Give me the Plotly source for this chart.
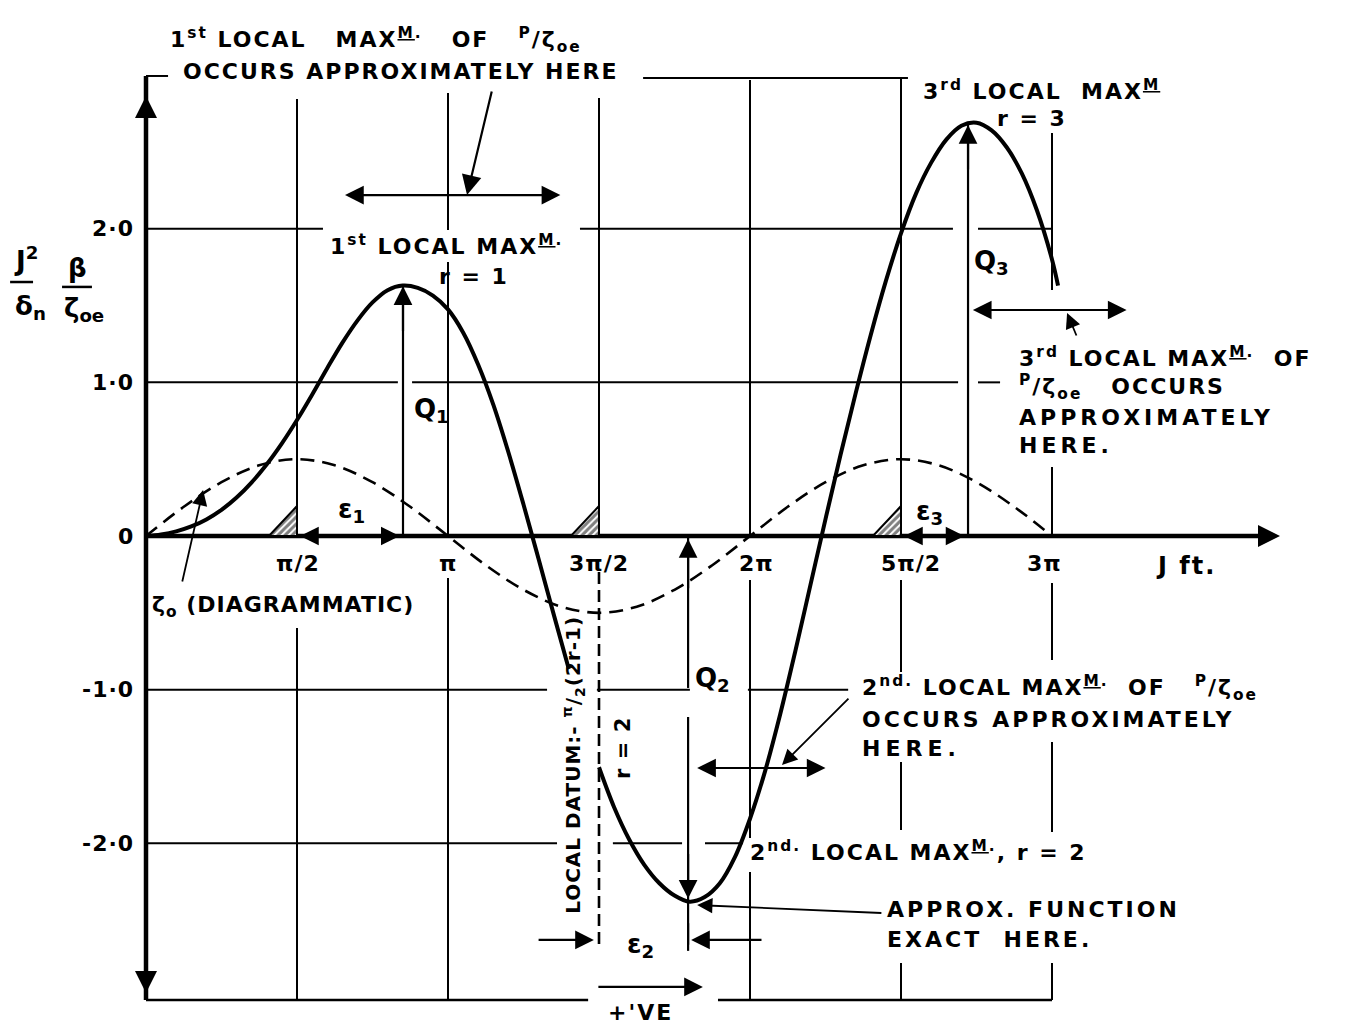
import plotly.graph_objects as go

# ---------------- data (x in multiples of pi, y in ordinate units) ----------------
# solid curve, first branch (up to the break at the local-datum label)
main_x1 = [0.0, 0.05, 0.1, 0.15, 0.2, 0.25, 0.3, 0.35, 0.4, 0.45, 0.5, 0.55, 0.6, 0.65,
           0.7, 0.75, 0.8, 0.85, 0.9, 0.95, 1.0, 1.05, 1.1, 1.15, 1.2, 1.25, 1.3, 1.35, 1.4]
main_y1 = [0.0, 0.010, 0.030, 0.062, 0.108, 0.170, 0.250, 0.349, 0.467, 0.603, 0.755,
           0.920, 1.092, 1.257, 1.402, 1.520, 1.600, 1.630, 1.615, 1.565, 1.475, 1.325,
           1.115, 0.855, 0.545, 0.205, -0.15, -0.51, -0.865]
# solid curve, second branch
main_x2 = [1.5, 1.55, 1.6, 1.65, 1.7, 1.75, 1.8, 1.85, 1.9, 1.95, 2.0, 2.05, 2.1, 2.15,
           2.2, 2.25, 2.3, 2.35, 2.4, 2.45, 2.5, 2.55, 2.6, 2.65, 2.7, 2.75, 2.8, 2.85, 2.9,
           2.95, 3.0, 3.02]
main_y2 = [-1.505, -1.765, -1.975, -2.14, -2.26, -2.34, -2.38, -2.35, -2.26, -2.09, -1.84,
           -1.53, -1.16, -0.75, -0.32, 0.11, 0.53, 0.93, 1.31, 1.66, 1.97, 2.23, 2.43, 2.58,
           2.67, 2.69, 2.64, 2.53, 2.36, 2.12, 1.80, 1.63]

# dashed zeta_o (diagrammatic)
zeta_x = [0, 0.125, 0.25, 0.375, 0.5, 0.625, 0.75, 0.875, 1.0, 1.125, 1.25, 1.375, 1.5,
          1.625, 1.75, 1.875, 2.0, 2.125, 2.25, 2.375, 2.5, 2.625, 2.75, 2.875, 3.0]
zeta_y = [0, 0.19, 0.35, 0.46, 0.50, 0.46, 0.35, 0.19, 0, -0.19, -0.35, -0.46, -0.50,
          -0.46, -0.35, -0.19, 0, 0.19, 0.35, 0.46, 0.50, 0.46, 0.35, 0.19, 0]

x_tick_vals = [0.5, 1.0, 1.5, 2.0, 2.5, 3.0]
x_tick_text = ["π/2", "π", "3π/2", "2π", "5π/2", "3π"]
y_tick_vals = [0, 1, 2, -1, -2]
y_tick_text = ["0", "1·0", "2·0", "-1·0", "-2·0"]

hatch_x = [0.5, 1.5, 2.5]          # hatched wedges on the axis
q_x = [0.851, 1.795, 2.722]        # positions of the local maxima (Q1, Q2, Q3)
q_y = [1.625, -2.36, 2.675]

# ---------------- figure ----------------
FONT = "DejaVu Sans"
BLACK = "black"
NB = "\u00a0"
fig = go.Figure()

shapes = []


def seg(x0, y0, x1, y1, w=2.0, dash="solid"):
    shapes.append(dict(type="line", xref="x", yref="y", x0=x0, y0=y0, x1=x1, y1=y1,
                       line=dict(color=BLACK, width=w, dash=dash), layer="below"))


YB = -3.02   # bottom frame
# vertical grid lines (segments, broken where the lettering sits)
vgrid = {
    0.5: [(2.844, 0.0), (-0.599, YB)],
    1.0: [(2.883, 1.992), (1.783, 0.0), (-0.273, YB)],
    1.5: [(2.851, 0.0)],
    2.0: [(2.968, 0.0), (-0.286, -1.965), (-2.187, YB)],
    2.5: [(2.981, 0.0), (-0.286, -0.885), (-1.471, -1.913), (-2.779, YB)],
    3.0: [(2.623, 1.601), (0.449, 0.0), (-0.306, -0.807), (-1.341, -1.926), (-2.779, YB)],
}
for xv, segs in vgrid.items():
    for a, b in segs:
        seg(xv, a, xv, b)
# local datum (dashed)
seg(1.5, -0.234, 1.5, -2.662, w=2.6, dash="12px,6px")

hgrid = {
    2.0: [(0, 0.586), (1.437, 2.672), (2.755, 3.003)],
    1.0: [(0, 0.834), (0.881, 2.689), (2.755, 2.828)],
    -1.0: [(0, 1.328), (1.493, 1.801), (1.993, 2.325)],
    -2.0: [(0, 1.361), (1.546, 1.775), (1.851, 1.977)],
}
for yv, segs in hgrid.items():
    for a, b in segs:
        seg(a, yv, b, yv)

# frame pieces
seg(0, 2.994, 0.073, 2.994)
seg(1.646, 2.981, 2.523, 2.981)
seg(0, YB, 1.464, YB, w=2.5)
seg(1.894, YB, 3.0, YB, w=2.5)
# main axes
seg(0, 2.994, 0, YB, w=4.5)
seg(0, 0, 3.70, 0, w=4.5)

# Q arrows shafts
seg(q_x[0], 0, q_x[0], q_y[0], w=2.2)
seg(q_x[2], 0, q_x[2], q_y[2], w=2.2)
seg(q_x[1], 0, q_x[1], -0.989, w=2.2)
seg(q_x[1], -1.178, q_x[1], -2.66, w=2.2)

# y-label fraction bars
seg(-0.450, 1.653, -0.374, 1.653, w=2.5)
seg(-0.278, 1.621, -0.179, 1.621, w=2.5)

# ---------------- traces ----------------
for xc in hatch_x:
    fig.add_trace(go.Scatter(
        x=[xc - 0.093, xc, xc, xc - 0.093], y=[0, 0, 0.195, 0],
        mode="lines", fill="toself",
        fillpattern=dict(shape="/", fgcolor=BLACK, bgcolor="white", size=5, solidity=0.6),
        line=dict(color=BLACK, width=2), hoverinfo="skip", showlegend=False))

fig.add_trace(go.Scatter(x=zeta_x, y=zeta_y, mode="lines",
                         line=dict(color=BLACK, width=2.6, dash="14px,8px", shape="spline"),
                         hoverinfo="skip", showlegend=False))
for xs, ys in ((main_x1, main_y1), (main_x2, main_y2)):
    fig.add_trace(go.Scatter(x=xs, y=ys, mode="lines",
                             line=dict(color=BLACK, width=4, shape="spline", smoothing=1.0),
                             hoverinfo="skip", showlegend=False))

# ---------------- annotations ----------------
annos = []


def txt(x, y, s, size=22, xanchor="center", yanchor="middle", angle=0, xshift=0, ls=2):
    if ls:
        s = '<span style="letter-spacing:%spx">%s</span>' % (ls, s)
    annos.append(dict(x=x, y=y, xref="x", yref="y", text=s, showarrow=False,
                      font=dict(family=FONT, size=size, color=BLACK, weight="bold"),
                      xanchor=xanchor, yanchor=yanchor, textangle=angle, xshift=xshift))


def arrow(x, y, ax, ay, both=False, w=2.2, size=1.7):
    annos.append(dict(x=x, y=y, ax=ax, ay=ay, xref="x", yref="y", axref="x", ayref="y",
                      text="", showarrow=True, arrowhead=2, arrowsize=size, arrowwidth=w,
                      arrowcolor=BLACK, arrowside="end+start" if both else "end",
                      startarrowhead=2, startarrowsize=size, standoff=0, startstandoff=0))


MAXM = "MAX<sup><u>M</u>.</sup>"
PZ = "<sup>P</sup>/ζ<sub>oe</sub>"
S2 = NB + " "

# tick labels
x_shift = [1, 0, 0, 6, 10, -8]
for v, t, s in zip(x_tick_vals, x_tick_text, x_shift):
    txt(v, -0.176, t, size=22, xshift=s, ls=1)
for v, t in zip(y_tick_vals, y_tick_text):
    txt(0, v, t, size=22, xanchor="right", xshift=-10, ls=1)
txt(3.444, -0.195, "J ft.", size=24)

# y label
txt(-0.397, 1.80, "J<sup>2</sup>", size=26, ls=0)
txt(-0.384, 1.484, "δ<sub>n</sub>", size=26, ls=0)
txt(-0.228, 1.744, "β", size=26, ls=0)
txt(-0.205, 1.471, "ζ<sub>oe</sub>", size=26, ls=0)

# top note
txt(0.073, 3.228, "1<sup>st</sup> LOCAL" + NB + S2 + MAXM + NB + S2 + "OF" + NB + S2 + PZ,
    xanchor="left")
txt(0.116, 3.026, "OCCURS APPROXIMATELY HERE", xanchor="left")
arrow(1.063, 2.219, 1.146, 2.903, size=1.8)
arrow(0.659, 2.219, 1.377, 2.219, both=True)

txt(0.603, 1.894, "1<sup>st</sup> LOCAL " + MAXM, xanchor="left")
txt(1.086, 1.686, "r = 1")
txt(2.566, 2.903, "3<sup>rd</sup> LOCAL" + S2 + "MAX<sup><u>M</u></sup>", xanchor="left")
txt(2.934, 2.72, "r = 3")

# Q labels & heads
txt(0.944, 0.82, "Q<sub>1</sub>", size=26, ls=0)
txt(2.798, 1.783, "Q<sub>3</sub>", size=26, ls=0)
txt(1.877, -0.937, "Q<sub>2</sub>", size=26, ls=0)
arrow(q_x[0], q_y[0], q_x[0], q_y[0] - 0.3)
arrow(q_x[2], q_y[2], q_x[2], q_y[2] - 0.3)
arrow(q_x[1], q_y[1], q_x[1], q_y[1] + 0.3)
arrow(q_x[1], -0.02, q_x[1], -0.35)

# epsilon dimensions
txt(0.682, 0.169, "ε<sub>1</sub>", size=26, ls=0)
txt(2.596, 0.156, "ε<sub>3</sub>", size=26, ls=0)
txt(1.636, -2.662, "ε<sub>2</sub>", size=26, ls=0)
arrow(0.51, 0, 0.60, 0)
arrow(0.84, 0, 0.75, 0)
arrow(2.51, 0, 2.60, 0)
arrow(2.71, 0, 2.62, 0)
arrow(1.483, -2.629, 1.295, -2.629)
arrow(1.805, -2.629, 2.043, -2.629)
seg(1.795, -2.52, 1.795, -2.70, w=2.2)

# zeta label
txt(0.013, -0.456, "ζ<sub>o</sub> (DIAGRAMMATIC)", xanchor="left", ls=1)
arrow(0.189, 0.299, 0.119, -0.306, w=1.8)

# 3rd note
txt(2.884, 1.165, "3<sup>rd</sup> LOCAL " + MAXM + S2 + "OF", xanchor="left")
txt(2.884, 0.968, PZ + NB + S2 + "OCCURS", xanchor="left")
txt(2.884, 0.770, "APPROXIMATELY", xanchor="left", ls=4)
txt(2.884, 0.586, "HERE.", xanchor="left", ls=4)
arrow(2.738, 1.471, 3.252, 1.471, both=True)
arrow(3.050, 1.451, 3.083, 1.295, w=1.8)

# 2nd note
txt(2.364, -0.989, "2<sup>nd.</sup> LOCAL " + MAXM + S2 + "OF" + NB + S2 + PZ, xanchor="left")
txt(2.364, -1.191, "OCCURS APPROXIMATELY", xanchor="left", ls=3)
txt(2.364, -1.38, "HERE.", xanchor="left", ls=5)
arrow(2.106, -1.49, 2.331, -1.048, w=1.8)
arrow(1.825, -1.51, 2.255, -1.51, both=True)

txt(1.993, -2.05, "2<sup>nd.</sup> LOCAL " + MAXM + ", r = 2", xanchor="left")
txt(2.447, -2.428, "APPROX. FUNCTION", xanchor="left", ls=3)
txt(2.447, -2.629, "EXACT" + S2 + "HERE.", xanchor="left", ls=3)
arrow(1.825, -2.402, 2.44, -2.454, w=1.8)

# +ve
txt(1.639, -3.104, "+'VE")
arrow(1.844, -2.935, 1.493, -2.935)

# rotated labels
txt(1.417, -1.49, "LOCAL DATUM:- <sup>π</sup>/<sub>2</sub>(2r-1)", size=20, angle=-90, ls=1)
txt(1.579, -1.38, "r = 2", size=21, angle=-90, ls=1)

# axis arrow heads
arrow(3.755, 0, 3.60, 0, w=4, size=1.1)
arrow(0, 2.864, 0, 2.6, w=4, size=1.1)
arrow(0, -2.974, 0, -2.7, w=4, size=1.1)

fig.update_layout(
    width=1345, height=1029,
    margin=dict(l=0, r=0, t=0, b=0),
    paper_bgcolor="white", plot_bgcolor="white",
    xaxis=dict(range=[-146 / 302, (1345 - 146) / 302], visible=False, fixedrange=True),
    yaxis=dict(range=[-(1029 - 536) / 153.65, 536 / 153.65], visible=False, fixedrange=True),
    shapes=shapes, annotations=annos, showlegend=False,
)
fig.write_html("out.html")
